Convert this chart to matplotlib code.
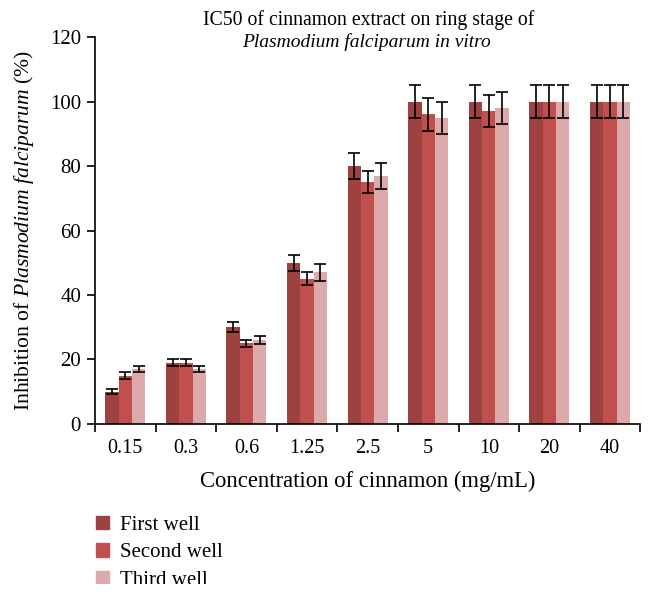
import numpy as np
import matplotlib.pyplot as plt
from matplotlib.patches import Patch, Rectangle

plt.rcParams['font.family'] = 'Liberation Serif'
plt.rcParams['mathtext.fontset'] = 'custom'
plt.rcParams['mathtext.rm'] = 'Liberation Serif'
plt.rcParams['mathtext.it'] = 'Liberation Serif:italic'

concentrations = ['0.15', '0.3', '0.6', '1.25', '2.5', '5', '10', '20', '40']
first_well = [10, 19, 30, 50, 80, 100, 100, 100, 100]
second_well = [15, 19, 25, 45, 75, 96, 97, 100, 100]
third_well = [17, 17, 26, 47, 77, 95, 98, 100, 100]
first_err = [0.7, 1, 1.5, 2.5, 4, 5, 5, 5, 5]
second_err = [1, 1, 1.2, 2, 3.5, 5, 5, 5, 5]
third_err = [1, 1, 1.2, 2.5, 4, 5, 5, 5, 5]
wells = ['First well', 'Second well', 'Third well']
colors = ['#9e4141', '#c0504d', '#dcaaaa']

fig = plt.figure(figsize=(6.53, 5.98), dpi=100)
ax = fig.add_axes([0.1455, 0.291, 0.835, 0.647])

x = np.arange(len(concentrations))
w = 0.22
series = [(first_well, first_err), (second_well, second_err), (third_well, third_err)]
for i, (vals, errs) in enumerate(series):
    ax.bar(x + (i - 1) * w, vals, w, color=colors[i], yerr=errs,
           error_kw=dict(ecolor='black', elinewidth=1.2, capsize=4, capthick=1.2))

ax.set_xlim(-0.5, len(concentrations) - 0.5)
ax.set_ylim(0, 120)
ax.set_yticks(np.arange(0, 121, 20))
ax.set_xticks(x)
ax.set_xticklabels(concentrations)
ax.set_xticks(np.arange(-0.5, len(concentrations)), minor=True)
ax.tick_params(axis='x', which='major', length=0, pad=11, labelsize=14.5)
ax.tick_params(axis='x', which='minor', length=6, width=1.2, direction='out')
ax.tick_params(axis='y', length=6, width=1.2, labelsize=15, pad=4)
ax.spines['top'].set_visible(False)
ax.spines['right'].set_visible(False)
ax.spines['left'].set_linewidth(1.2)
ax.spines['bottom'].set_linewidth(1.2)

ax.set_xlabel('Concentration of cinnamon (mg/mL)', fontsize=16.3, labelpad=9)
ax.set_ylabel(r'Inhibition of $\mathit{Plasmodium\ falciparum}$ (%)', fontsize=15.6)
ax.yaxis.set_label_coords(-0.108, 0.50)

fig.text(0.564, 0.958, 'IC50 of cinnamon extract on ring stage of', ha='center', va='baseline', fontsize=14.2)
fig.text(0.561, 0.921, 'Plasmodium falciparum in vitro', ha='center', va='baseline', fontsize=14, style='italic')

handles = [Patch(color=c, label=l) for c, l in zip(colors, wells)]
fig.legend(handles=handles, loc='upper left', bbox_to_anchor=(0.135, 0.151), frameon=False,
           fontsize=15, handlelength=0.6, handleheight=0.6, handletextpad=0.55, labelspacing=0.4,
           borderaxespad=0)

# the original's last legend entry is cut off by a blank strip at the bottom
fig.add_artist(Rectangle((0, 0), 1, 14 / 598, transform=fig.transFigure,
                         facecolor='white', edgecolor='none', zorder=10))

fig.savefig('out.png', dpi=100)
